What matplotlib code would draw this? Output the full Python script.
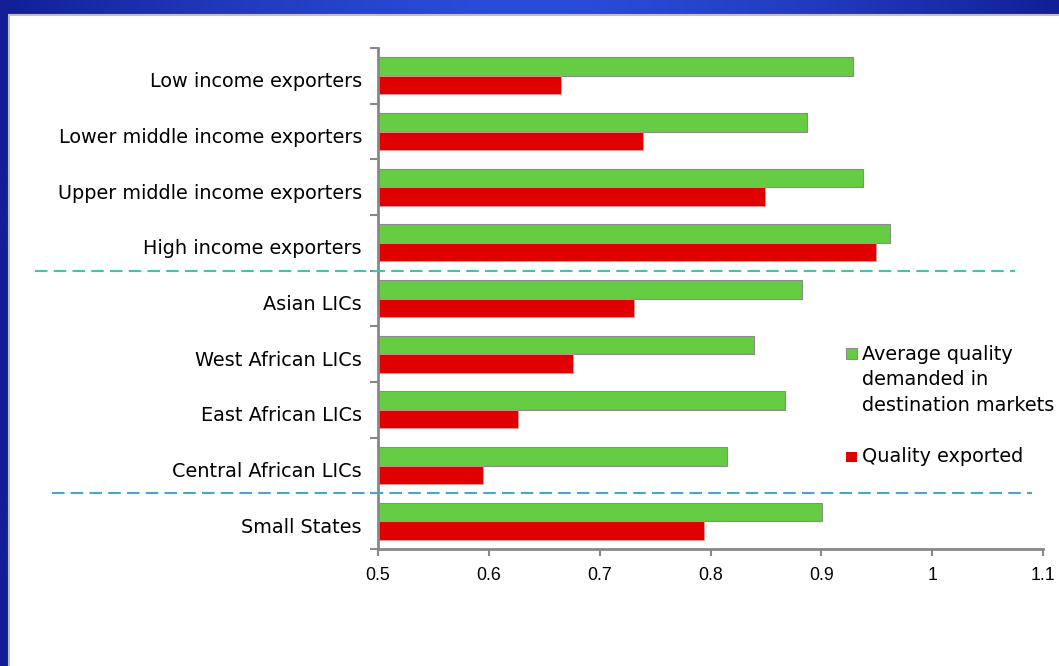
import numpy as np
import matplotlib
matplotlib.use("Agg")
import matplotlib.pyplot as plt
from matplotlib.patches import Rectangle
from matplotlib.lines import Line2D
from matplotlib.transforms import blended_transform_factory, ScaledTranslation

plt.rcParams['font.family'] = ['DejaVu Sans']

categories = ["Low income exporters", "Lower middle income exporters",
              "Upper middle income exporters", "High income exporters",
              "Asian LICs", "West African LICs", "East African LICs",
              "Central African LICs", "Small States"]
demanded = [0.929, 0.887, 0.938, 0.962, 0.883, 0.839, 0.867, 0.815, 0.901]
exported = [0.665, 0.739, 0.849, 0.949, 0.731, 0.676, 0.626, 0.595, 0.794]
xticks = [0.5, 0.6, 0.7, 0.8, 0.9, 1.0, 1.1]
xticklabels = ["0.5", "0.6", "0.7", "0.8", "0.9", "1", "1.1"]
separators = [3.5, 7.5]
legend_green = ["Average quality", "demanded in", "destination markets"]
legend_red = "Quality exported"

GREEN = "#66CC44"
RED = "#E00000"
AXIS = "#888888"

W, H = 1059, 666
fig = plt.figure(figsize=(W / 100, H / 100), dpi=100)

# blue slide frame
bg = fig.add_axes([0, 0, 1, 1], zorder=-10)
grad = np.abs(np.linspace(-1, 1, 400))
img = np.zeros((2, 400, 3))
c_mid = np.array([0x2B, 0x4C, 0xDA]) / 255
c_edge = np.array([0x12, 0x1F, 0x96]) / 255
for k in range(3):
    img[:, :, k] = c_mid[k] + (c_edge[k] - c_mid[k]) * grad ** 1.5
bg.imshow(img, aspect="auto", extent=[0, 1, 0, 1])
bg.add_patch(Rectangle((8.5 / W, -0.01), 1, 1.01 - 14.5 / H, facecolor="white",
                       edgecolor="#C0C0C0", linewidth=1.5))
bg.set_xlim(0, 1)
bg.set_ylim(0, 1)
bg.axis("off")

ax = fig.add_axes([378 / W, 1 - 549 / H, (1043 - 378) / W, (549 - 48) / H])
y = np.arange(len(categories))
h = 0.33
ax.barh(y - h / 2, np.array(demanded) - 0.5, left=0.5, height=h, color=GREEN,
        edgecolor="#8a8a8a", linewidth=0.8, zorder=2)
ax.barh(y + h / 2, np.array(exported) - 0.5, left=0.5, height=h, color=RED,
        edgecolor="#e8a0a0", linewidth=0.5, zorder=2)

ax.set_xlim(0.5, 1.1)
ax.set_ylim(len(categories) - 0.5, -0.5)
ax.set_xticks(xticks)
ax.set_xticklabels(xticklabels, fontsize=12.8, family=['Liberation Sans'])
ax.set_yticks(y)
ax.set_yticklabels(categories, fontsize=13.85)
ax.set_yticks(np.arange(len(categories) + 1) - 0.5, minor=True)
ax.tick_params(axis="y", which="major", length=0, pad=11.5)
ax.tick_params(axis="y", which="minor", length=6, width=1.5, color=AXIS)
ax.tick_params(axis="x", length=5, width=1.5, color=AXIS, pad=8)
shift = ScaledTranslation(0, -4 / 100, fig.dpi_scale_trans)
for lab in ax.get_yticklabels():
    lab.set_transform(lab.get_transform() + shift)
for s in ["top", "right"]:
    ax.spines[s].set_visible(False)
for s in ["left", "bottom"]:
    ax.spines[s].set_color(AXIS)
    ax.spines[s].set_linewidth(2)

# dashed separators between groups
tr = blended_transform_factory(fig.transFigure, ax.transData)
for yy, x0, x1, col in [(separators[0], 35, 1015, "#3CC8A8"),
                        (separators[1], 52, 1032, "#4BA3D3")]:
    fig.add_artist(Line2D([x0 / W, x1 / W], [yy, yy], transform=tr, color=col,
                          linewidth=1.5, dashes=(6, 3), zorder=5))

# legend
fs = 13.85
fig.add_artist(Rectangle((845.5 / W, 1 - 359 / H), 11 / W, 11 / H,
                         facecolor=GREEN, edgecolor="#8a8a8a", linewidth=0.8))
for i, line in enumerate(legend_green):
    fig.text(862 / W, 1 - (360 + 25.3 * i) / H, line, fontsize=fs,
             va="baseline", ha="left")
fig.add_artist(Rectangle((845.5 / W, 1 - 462 / H), 11 / W, 10 / H,
                         facecolor=RED, edgecolor="none"))
fig.text(862 / W, 1 - 461.7 / H, legend_red, fontsize=fs,
         va="baseline", ha="left")

fig.savefig("out.png", dpi=100)
